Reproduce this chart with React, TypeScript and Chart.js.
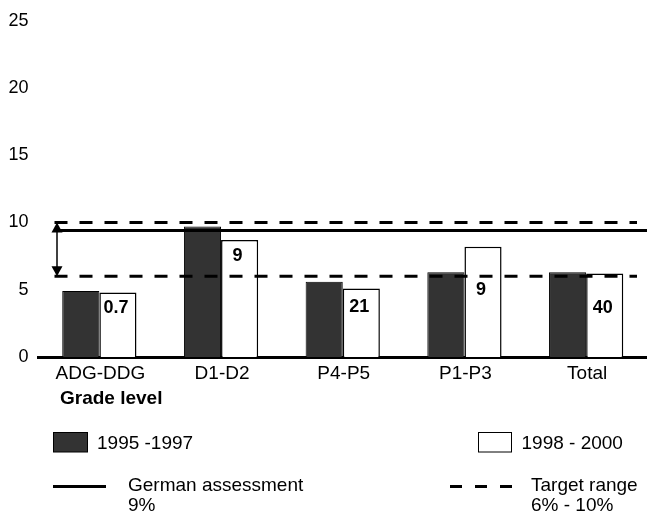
import React, { useEffect, useRef } from "react";
import { Chart, registerables } from "chart.js";

Chart.register(...registerables);

// ---- data ----
const categories = ["ADG-DDG", "D1-D2", "P4-P5", "P1-P3", "Total"];
const series1995 = [4.9, 9.7, 5.6, 6.3, 6.3];
const series1998 = [4.8, 8.7, 5.1, 8.2, 6.2];
const barLabels = ["0.7", "9", "21", "9", "40"];
const yTickValues = [0, 5, 10, 15, 20, 25];
const germanAssessment = 9.4;
const targetLow = 6;
const targetHigh = 10;
const seriesNames = ["1995 -1997", "1998 - 2000"];
const xAxisTitle = "Grade level";
const legendGerman = ["German assessment", "9%"];
const legendTarget = ["Target range", "6% - 10%"];

// ---- placement (layout only) ----
const labelLevels = [3.66, 7.5, 3.74, 4.99, 3.66];

const FONT = '"Liberation Sans", Arial, Helvetica, sans-serif';
const DARK = "#333333";

const overlay = {
  id: "overlay",
  afterDatasetsDraw(chart: any) {
    const ctx = chart.ctx as CanvasRenderingContext2D;
    const y = chart.scales.y;
    const x = chart.scales.x;
    const ca = chart.chartArea;
    ctx.save();
    ctx.strokeStyle = "#000";
    ctx.fillStyle = "#000";

    // horizontal reference lines
    ctx.lineWidth = 3;
    ctx.setLineDash([13, 12]);
    for (const v of [targetHigh, targetLow]) {
      const py = y.getPixelForValue(v);
      ctx.beginPath();
      ctx.moveTo(ca.left + 16, py);
      ctx.lineTo(ca.right - 10, py);
      ctx.stroke();
    }
    ctx.setLineDash([]);
    const pg = y.getPixelForValue(germanAssessment);
    ctx.beginPath();
    ctx.moveTo(ca.left + 16, pg);
    ctx.lineTo(ca.right, pg);
    ctx.stroke();

    // double arrow
    const ax = ca.left + 18.5;
    const yTop = y.getPixelForValue(targetHigh);
    const yBot = y.getPixelForValue(targetLow);
    ctx.lineWidth = 1.5;
    ctx.beginPath();
    ctx.moveTo(ax, yTop + 8);
    ctx.lineTo(ax, yBot - 8);
    ctx.stroke();
    ctx.beginPath();
    ctx.moveTo(ax, yTop);
    ctx.lineTo(ax - 5.5, yTop + 10);
    ctx.lineTo(ax + 5.5, yTop + 10);
    ctx.closePath();
    ctx.fill();
    ctx.beginPath();
    ctx.moveTo(ax, yBot);
    ctx.lineTo(ax - 5.5, yBot - 10);
    ctx.lineTo(ax + 5.5, yBot - 10);
    ctx.closePath();
    ctx.fill();

    // bar labels
    const meta = chart.getDatasetMeta(1);
    ctx.font = `bold 18px ${FONT}`;
    ctx.textAlign = "center";
    ctx.textBaseline = "middle";
    meta.data.forEach((bar: any, i: number) => {
      ctx.fillText(barLabels[i], bar.x - 2, y.getPixelForValue(labelLevels[i]));
    });

    // category labels
    ctx.font = `19px ${FONT}`;
    categories.forEach((c, i) => {
      ctx.fillText(c, x.getPixelForValue(i) + 1, 374);
    });

    // axis title
    ctx.textAlign = "left";
    ctx.font = `bold 19px ${FONT}`;
    ctx.fillText(xAxisTitle, 60, 399);

    // legend
    ctx.font = `19px ${FONT}`;
    ctx.lineWidth = 1;
    ctx.fillStyle = DARK;
    ctx.fillRect(53.5, 432.5, 34, 19.5);
    ctx.strokeRect(53.5, 432.5, 34, 19.5);
    ctx.fillStyle = "#fff";
    ctx.fillRect(478.5, 432.5, 33, 19.5);
    ctx.strokeRect(478.5, 432.5, 33, 19.5);
    ctx.fillStyle = "#000";
    ctx.fillText(seriesNames[0], 97, 444);
    ctx.fillText(seriesNames[1], 521.5, 444);

    ctx.lineWidth = 3;
    ctx.beginPath();
    ctx.moveTo(53, 486.5);
    ctx.lineTo(106, 486.5);
    ctx.stroke();
    ctx.setLineDash([12, 13]);
    ctx.beginPath();
    ctx.moveTo(450, 486.5);
    ctx.lineTo(512, 486.5);
    ctx.stroke();
    ctx.setLineDash([]);

    ctx.fillText(legendGerman[0], 128, 486);
    ctx.fillText(legendGerman[1], 128, 506);
    ctx.fillText(legendTarget[0], 531, 486);
    ctx.fillText(legendTarget[1], 531, 506);

    ctx.restore();
  },
};

export default function App() {
  const ref = useRef<HTMLCanvasElement | null>(null);

  useEffect(() => {
    if (!ref.current) return;
    const chart = new Chart(ref.current, {
      type: "bar",
      data: {
        labels: categories,
        datasets: [
          {
            label: seriesNames[0],
            data: series1995,
            backgroundColor: DARK,
            borderColor: "#000",
            borderWidth: 1,
            categoryPercentage: 0.61,
            barPercentage: 1,
          },
          {
            label: seriesNames[1],
            data: series1998,
            backgroundColor: "#ffffff",
            borderColor: "#000",
            borderWidth: 1.5,
            categoryPercentage: 0.61,
            barPercentage: 1,
          },
        ],
      },
      options: {
        responsive: false,
        animation: false,
        devicePixelRatio: 1,
        layout: { padding: { top: 17, bottom: 157, left: 0, right: 0 } },
        plugins: {
          legend: { display: false },
          tooltip: { enabled: false },
        },
        scales: {
          x: {
            grid: { display: false, drawTicks: false },
            ticks: { display: false },
            border: { display: true, color: "#000", width: 3 },
            afterFit: (s: any) => {
              s.height = 0;
            },
          },
          y: {
            min: 0,
            max: 25,
            afterBuildTicks: (s: any) => {
              s.ticks = yTickValues.map((v) => ({ value: v }));
            },
            grid: { display: false, drawTicks: false },
            border: { display: false },
            ticks: {
              padding: 10,
              color: "#000",
              font: { family: FONT, size: 18 },
            },
            afterFit: (s: any) => {
              s.width = 38.5;
            },
          },
        },
      },
      plugins: [overlay],
    });
    return () => chart.destroy();
  }, []);

  return (
    <div
      style={{
        position: "fixed",
        left: 0,
        top: 0,
        width: 647,
        height: 514,
        background: "#fff",
      }}
    >
      <canvas ref={ref} width={647} height={514} />
    </div>
  );
}
